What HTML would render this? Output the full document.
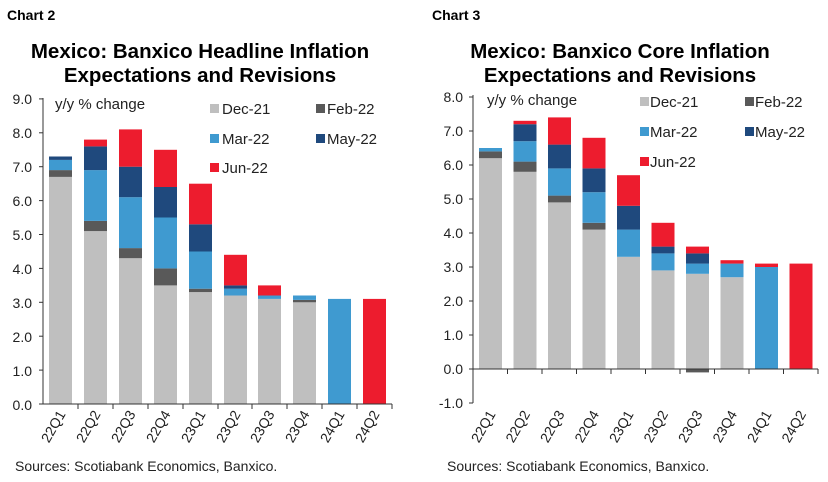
<!DOCTYPE html>
<html><head><meta charset="utf-8"><style>
body{margin:0;background:#fff}
svg{display:block;font-family:"Liberation Sans",Arial,sans-serif}
.t{font-weight:bold;font-size:20.5px;text-anchor:middle}
.c{font-weight:bold;font-size:14px}
.ax{font-size:14px;fill:#222}
.yl{text-anchor:end}
.lg{font-size:15px;fill:#222}
</style></head><body>
<svg width="828" height="482" viewBox="0 0 828 482">
<text class="c" x="7" y="20">Chart 2</text>
<text class="c" x="432" y="20">Chart 3</text>
<text class="t" x="200" y="58">Mexico: Banxico Headline Inflation</text>
<text class="t" x="200" y="82">Expectations and Revisions</text>
<text class="t" x="620" y="58">Mexico: Banxico Core Inflation</text>
<text class="t" x="620" y="82">Expectations and Revisions</text>

<g>
<rect x="49" y="176.9" width="23" height="227.1" fill="#bfbfbf"/>
<rect x="49" y="170.1" width="23" height="6.8" fill="#595959"/>
<rect x="49" y="159.9" width="23" height="10.2" fill="#3f9ad0"/>
<rect x="49" y="156.5" width="23" height="3.4" fill="#1f497d"/>

<rect x="84" y="231.1" width="23" height="172.9" fill="#bfbfbf"/>
<rect x="84" y="220.9" width="23" height="10.2" fill="#595959"/>
<rect x="84" y="170.1" width="23" height="50.8" fill="#3f9ad0"/>
<rect x="84" y="146.4" width="23" height="23.7" fill="#1f497d"/>
<rect x="84" y="139.6" width="23" height="6.8" fill="#ed1c2e"/>

<rect x="119" y="258.2" width="23" height="145.8" fill="#bfbfbf"/>
<rect x="119" y="248.1" width="23" height="10.1" fill="#595959"/>
<rect x="119" y="197.2" width="23" height="50.9" fill="#3f9ad0"/>
<rect x="119" y="166.7" width="23" height="30.5" fill="#1f497d"/>
<rect x="119" y="129.4" width="23" height="37.3" fill="#ed1c2e"/>

<rect x="154" y="285.4" width="23" height="118.6" fill="#bfbfbf"/>
<rect x="154" y="268.4" width="23" height="17" fill="#595959"/>
<rect x="154" y="217.5" width="23" height="50.9" fill="#3f9ad0"/>
<rect x="154" y="187" width="23" height="30.5" fill="#1f497d"/>
<rect x="154" y="149.8" width="23" height="37.2" fill="#ed1c2e"/>

<rect x="189" y="292.1" width="23" height="111.9" fill="#bfbfbf"/>
<rect x="189" y="288.7" width="23" height="3.4" fill="#595959"/>
<rect x="189" y="251.5" width="23" height="37.2" fill="#3f9ad0"/>
<rect x="189" y="224.3" width="23" height="27.2" fill="#1f497d"/>
<rect x="189" y="183.7" width="23" height="40.6" fill="#ed1c2e"/>

<rect x="224" y="295.5" width="23" height="108.5" fill="#bfbfbf"/>
<rect x="224" y="288.7" width="23" height="6.8" fill="#3f9ad0"/>
<rect x="224" y="285.4" width="23" height="3.3" fill="#1f497d"/>
<rect x="224" y="254.8" width="23" height="30.6" fill="#ed1c2e"/>

<rect x="258" y="298.9" width="23" height="105.1" fill="#bfbfbf"/>
<rect x="258" y="295.5" width="23" height="3.4" fill="#3f9ad0"/>
<rect x="258" y="285.4" width="23" height="10.1" fill="#ed1c2e"/>

<rect x="293" y="302.3" width="23" height="101.7" fill="#bfbfbf"/>
<rect x="293" y="299.9" width="23" height="2.4" fill="#595959"/>
<rect x="293" y="295.5" width="23" height="4.4" fill="#3f9ad0"/>

<rect x="328" y="298.9" width="23" height="105.1" fill="#3f9ad0"/>
<rect x="363" y="298.9" width="23" height="105.1" fill="#ed1c2e"/>
</g>
<g stroke="#333" stroke-width="1">
<line x1="43" y1="98" x2="43" y2="404"/>
<line x1="43" y1="404" x2="392" y2="404"/>
<line x1="39" y1="98.9" x2="43" y2="98.9"/><line x1="39" y1="132.8" x2="43" y2="132.8"/><line x1="39" y1="166.7" x2="43" y2="166.7"/><line x1="39" y1="200.6" x2="43" y2="200.6"/><line x1="39" y1="234.5" x2="43" y2="234.5"/><line x1="39" y1="268.4" x2="43" y2="268.4"/><line x1="39" y1="302.3" x2="43" y2="302.3"/><line x1="39" y1="336.2" x2="43" y2="336.2"/><line x1="39" y1="370.1" x2="43" y2="370.1"/><line x1="39" y1="404" x2="43" y2="404"/>
<line x1="78" y1="404" x2="78" y2="409"/><line x1="113" y1="404" x2="113" y2="409"/><line x1="148" y1="404" x2="148" y2="409"/><line x1="183" y1="404" x2="183" y2="409"/><line x1="218" y1="404" x2="218" y2="409"/><line x1="252" y1="404" x2="252" y2="409"/><line x1="287" y1="404" x2="287" y2="409"/><line x1="322" y1="404" x2="322" y2="409"/><line x1="357" y1="404" x2="357" y2="409"/><line x1="392" y1="404" x2="392" y2="409"/>
</g>
<g class="ax yl">
<text x="32" y="104">9.0</text><text x="32" y="138">8.0</text><text x="32" y="172">7.0</text><text x="32" y="206">6.0</text><text x="32" y="240">5.0</text><text x="32" y="274">4.0</text><text x="32" y="308">3.0</text><text x="32" y="342">2.0</text><text x="32" y="376">1.0</text><text x="32" y="410">0.0</text>
</g>
<g class="ax" text-anchor="end">
<text transform="translate(66,414) rotate(-60)">22Q1</text>
<text transform="translate(101,414) rotate(-60)">22Q2</text>
<text transform="translate(136,414) rotate(-60)">22Q3</text>
<text transform="translate(171,414) rotate(-60)">22Q4</text>
<text transform="translate(206,414) rotate(-60)">23Q1</text>
<text transform="translate(241,414) rotate(-60)">23Q2</text>
<text transform="translate(275,414) rotate(-60)">23Q3</text>
<text transform="translate(310,414) rotate(-60)">23Q4</text>
<text transform="translate(345,414) rotate(-60)">24Q1</text>
<text transform="translate(380,414) rotate(-60)">24Q2</text>
</g>
<text class="lg" x="55" y="109">y/y % change</text>
<rect x="210" y="104" width="9" height="9" fill="#bfbfbf"/><text class="lg" x="222" y="114">Dec-21</text>
<rect x="316" y="104" width="9" height="9" fill="#595959"/><text class="lg" x="327" y="114">Feb-22</text>
<rect x="210" y="134" width="9" height="9" fill="#3f9ad0"/><text class="lg" x="222" y="144">Mar-22</text>
<rect x="316" y="134" width="9" height="9" fill="#1f497d"/><text class="lg" x="327" y="144">May-22</text>
<rect x="210" y="163" width="9" height="9" fill="#ed1c2e"/><text class="lg" x="222" y="173">Jun-22</text>

<g>
<rect x="479" y="158.2" width="23" height="210.8" fill="#bfbfbf"/>
<rect x="479" y="151.4" width="23" height="6.8" fill="#595959"/>
<rect x="479" y="148" width="23" height="3.4" fill="#3f9ad0"/>

<rect x="513.5" y="171.8" width="23" height="197.2" fill="#bfbfbf"/>
<rect x="513.5" y="161.6" width="23" height="10.2" fill="#595959"/>
<rect x="513.5" y="141.2" width="23" height="20.4" fill="#3f9ad0"/>
<rect x="513.5" y="124.2" width="23" height="17" fill="#1f497d"/>
<rect x="513.5" y="120.8" width="23" height="3.4" fill="#ed1c2e"/>

<rect x="548" y="202.4" width="23" height="166.6" fill="#bfbfbf"/>
<rect x="548" y="195.6" width="23" height="6.8" fill="#595959"/>
<rect x="548" y="168.4" width="23" height="27.2" fill="#3f9ad0"/>
<rect x="548" y="144.6" width="23" height="23.8" fill="#1f497d"/>
<rect x="548" y="117.4" width="23" height="27.2" fill="#ed1c2e"/>

<rect x="582.5" y="229.6" width="23" height="139.4" fill="#bfbfbf"/>
<rect x="582.5" y="222.8" width="23" height="6.8" fill="#595959"/>
<rect x="582.5" y="192.2" width="23" height="30.6" fill="#3f9ad0"/>
<rect x="582.5" y="168.4" width="23" height="23.8" fill="#1f497d"/>
<rect x="582.5" y="137.8" width="23" height="30.6" fill="#ed1c2e"/>

<rect x="617" y="256.8" width="23" height="112.2" fill="#bfbfbf"/>
<rect x="617" y="229.6" width="23" height="27.2" fill="#3f9ad0"/>
<rect x="617" y="205.8" width="23" height="23.8" fill="#1f497d"/>
<rect x="617" y="175.2" width="23" height="30.6" fill="#ed1c2e"/>

<rect x="651.5" y="270.4" width="23" height="98.6" fill="#bfbfbf"/>
<rect x="651.5" y="253.4" width="23" height="17" fill="#3f9ad0"/>
<rect x="651.5" y="246.6" width="23" height="6.8" fill="#1f497d"/>
<rect x="651.5" y="222.8" width="23" height="23.8" fill="#ed1c2e"/>

<rect x="686" y="273.8" width="23" height="95.2" fill="#bfbfbf"/>
<rect x="686" y="263.6" width="23" height="10.2" fill="#3f9ad0"/>
<rect x="686" y="253.4" width="23" height="10.2" fill="#1f497d"/>
<rect x="686" y="246.6" width="23" height="6.8" fill="#ed1c2e"/>
<rect x="686" y="369" width="23" height="3.4" fill="#595959"/>

<rect x="720.5" y="277.2" width="23" height="91.8" fill="#bfbfbf"/>
<rect x="720.5" y="263.6" width="23" height="13.6" fill="#3f9ad0"/>
<rect x="720.5" y="260.2" width="23" height="3.4" fill="#ed1c2e"/>

<rect x="755" y="267" width="23" height="102" fill="#3f9ad0"/>
<rect x="755" y="263.6" width="23" height="3.4" fill="#ed1c2e"/>

<rect x="789.5" y="263.6" width="23" height="105.4" fill="#ed1c2e"/>
</g>
<g stroke="#333" stroke-width="1">
<line x1="473" y1="95" x2="473" y2="403"/>
<line x1="473" y1="369" x2="818" y2="369"/>
<line x1="469" y1="97" x2="473" y2="97"/><line x1="469" y1="131" x2="473" y2="131"/><line x1="469" y1="165" x2="473" y2="165"/><line x1="469" y1="199" x2="473" y2="199"/><line x1="469" y1="233" x2="473" y2="233"/><line x1="469" y1="267" x2="473" y2="267"/><line x1="469" y1="301" x2="473" y2="301"/><line x1="469" y1="335" x2="473" y2="335"/><line x1="469" y1="369" x2="473" y2="369"/><line x1="469" y1="403" x2="473" y2="403"/>
<line x1="507.5" y1="369" x2="507.5" y2="374"/><line x1="542" y1="369" x2="542" y2="374"/><line x1="576.5" y1="369" x2="576.5" y2="374"/><line x1="611" y1="369" x2="611" y2="374"/><line x1="645.5" y1="369" x2="645.5" y2="374"/><line x1="680" y1="369" x2="680" y2="374"/><line x1="714.5" y1="369" x2="714.5" y2="374"/><line x1="749" y1="369" x2="749" y2="374"/><line x1="783.5" y1="369" x2="783.5" y2="374"/><line x1="818" y1="369" x2="818" y2="374"/>
</g>
<g class="ax yl">
<text x="463" y="102">8.0</text><text x="463" y="136">7.0</text><text x="463" y="170">6.0</text><text x="463" y="204">5.0</text><text x="463" y="238">4.0</text><text x="463" y="272">3.0</text><text x="463" y="306">2.0</text><text x="463" y="340">1.0</text><text x="463" y="374">0.0</text><text x="463" y="408">-1.0</text>
</g>
<g class="ax" text-anchor="end">
<text transform="translate(496,414) rotate(-60)">22Q1</text>
<text transform="translate(530.5,414) rotate(-60)">22Q2</text>
<text transform="translate(565,414) rotate(-60)">22Q3</text>
<text transform="translate(599.5,414) rotate(-60)">22Q4</text>
<text transform="translate(634,414) rotate(-60)">23Q1</text>
<text transform="translate(668.5,414) rotate(-60)">23Q2</text>
<text transform="translate(703,414) rotate(-60)">23Q3</text>
<text transform="translate(737.5,414) rotate(-60)">23Q4</text>
<text transform="translate(772,414) rotate(-60)">24Q1</text>
<text transform="translate(806.5,414) rotate(-60)">24Q2</text>
</g>
<text class="lg" x="487" y="105">y/y % change</text>
<rect x="640" y="97" width="9" height="9" fill="#bfbfbf"/><text class="lg" x="650" y="107">Dec-21</text>
<rect x="745" y="97" width="9" height="9" fill="#595959"/><text class="lg" x="755" y="107">Feb-22</text>
<rect x="640" y="127" width="9" height="9" fill="#3f9ad0"/><text class="lg" x="650" y="137">Mar-22</text>
<rect x="745" y="127" width="9" height="9" fill="#1f497d"/><text class="lg" x="755" y="137">May-22</text>
<rect x="640" y="157" width="9" height="9" fill="#ed1c2e"/><text class="lg" x="650" y="167">Jun-22</text>

<text class="ax" x="15" y="471">Sources: Scotiabank Economics, Banxico.</text>
<text class="ax" x="447" y="471">Sources: Scotiabank Economics, Banxico.</text>
</svg>
</body></html>
